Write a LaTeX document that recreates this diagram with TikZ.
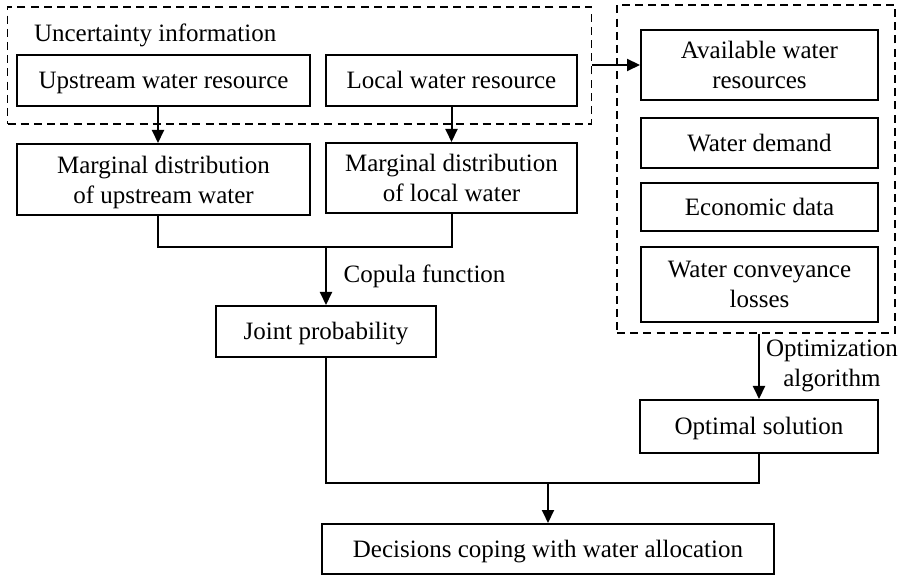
\documentclass[tikz,border=0pt]{standalone}
\usepackage{fontspec}
\setmainfont{Liberation Serif}
\usepackage{tikz}
\usetikzlibrary{arrows.meta}

\tikzset{
  box/.style={draw, line width=1pt, fill=white, align=center, inner sep=2pt, text depth=-1.2pt},
  onebox/.style={box, text height=1.8ex, text depth=0pt},
  dashbox/.style={draw, line width=0.8pt, dash pattern=on 4pt off 2.6pt},
  flow/.style={line width=1pt},
  arr/.style={flow, -{Triangle[length=6.5pt,width=6pt]}}
}

\begin{document}
\begin{tikzpicture}[x=0.5pt, y=-0.5pt, font=\fontsize{12.5}{15}\selectfont]
  \useasboundingbox (0,0) rectangle (898,576);

  \node[dashbox, minimum width=292pt, minimum height=58.5pt] (uncertbox) at (299.5,65.5) {};
  \node[dashbox, minimum width=139pt, minimum height=164pt] (inputbox) at (756,169) {};

  \node[anchor=west] (uncertlbl) at (27,35) {Uncertainty information};
  \node[onebox, minimum width=146.5pt, minimum height=25.5pt] (upstream) at (163.5,80.5) {Upstream water resource};
  \node[onebox, minimum width=125.5pt, minimum height=25.5pt] (local) at (451.5,80.5) {Local water resource};
  \node[box, minimum width=146.5pt, minimum height=35.5pt] (margup) at (163.5,179.5) {Marginal distribution\\of upstream water};
  \node[box, minimum width=125.5pt, minimum height=35pt] (margloc) at (451.5,178) {Marginal distribution\\of local water};
  \node[onebox, minimum width=110pt, minimum height=25.5pt] (joint) at (326,331.5) {Joint probability};

  \node[box, minimum width=118.5pt, minimum height=35pt] (avail) at (759.5,65) {Available water\\resources};
  \node[onebox, minimum width=118.5pt, minimum height=25pt] (demand) at (759.5,143) {Water demand};
  \node[onebox, minimum width=118.5pt, minimum height=24pt] (econ) at (759.5,207) {Economic data};
  \node[box, minimum width=118.5pt, minimum height=37.5pt] (convey) at (759.5,284.5) {Water conveyance\\losses};
  \node[onebox, minimum width=119pt, minimum height=26.5pt] (optimal) at (759,426.5) {Optimal solution};
  \node[onebox, minimum width=226pt, minimum height=25pt] (decision) at (548,549) {Decisions coping with water allocation};

  \coordinate (cjoin) at (326,247);
  \coordinate (cdec) at (548,483);

  \draw[arr] ([xshift=-2.75pt]upstream.south) -- ([xshift=-2.75pt]margup.north);
  \draw[arr] (local) -- (margloc);
  \draw[flow] ([xshift=-2.75pt]margup.south) |- (cjoin) -| (margloc.south);
  \draw[arr] (cjoin) -- node[right=5pt] {Copula function} (joint.north);
  \draw[arr] (uncertbox.east |- avail.west) -- (avail.west);
  \draw[arr] (optimal.north |- inputbox.south) -- node[right, align=center, inner sep=3pt] {Optimization\\algorithm} (optimal.north);
  \draw[flow] (joint.south) |- (cdec) -| (optimal.south);
  \draw[arr] (cdec) -- (decision.north);
\end{tikzpicture}
\end{document}
